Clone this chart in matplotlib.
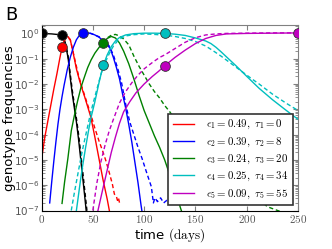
import numpy as np
import matplotlib
matplotlib.use("Agg")
import matplotlib.pyplot as plt
from matplotlib.ticker import FixedLocator, LogLocator, NullFormatter

plt.rcParams['mathtext.fontset'] = 'cm'
plt.rcParams['font.family'] = 'DejaVu Sans'

# values, stored as log10(frequency)
black_t = [0, 5, 10, 15, 20, 22, 24, 26, 28, 30, 32, 34, 36, 38, 40, 42, 44]
black_solid = [0, -0.01, -0.02, -0.04, -0.07, -0.22, -0.55, -1.0, -1.75, -2.4, -2.95,
               -3.5, -4.15, -4.9, -5.65, -6.4, -7.2]
black_dash_t = [20, 22, 24, 26, 28, 30, 32, 34, 36, 38, 40, 42, 44, 45]
black_dash = [-0.07, -0.2, -0.5, -0.92, -1.6, -2.25, -2.8, -3.35, -3.95, -4.65, -5.4,
              -6.15, -6.9, -7.3]

red_t = [0, 3, 6, 9, 12, 15, 18, 20, 22, 24, 26, 28, 30, 32, 34, 37, 40, 42, 45, 48,
         52, 56, 60, 64, 67]
red_solid = [-5.0, -4.15, -3.5, -2.85, -2.2, -1.6, -0.95, -0.55, -0.28, -0.14, -0.13,
             -0.25, -0.6, -1.0, -1.4, -1.85, -2.25, -2.5, -2.9, -3.3, -4.1, -4.95,
             -5.8, -6.55, -7.2]
red_dash_t = [20, 24, 28, 32, 36, 40, 44, 48, 52, 56, 60, 63, 66, 69, 71, 73, 74, 75, 76]
red_dash = [-0.55, -0.14, -0.24, -0.95, -1.65, -2.2, -2.7, -3.2, -3.75, -4.25, -4.7,
            -5.07, -5.5, -5.95, -6.35, -6.45, -6.6, -6.5, -6.7]

blue_t = [8, 10, 12, 14, 16, 18, 20, 22, 25, 28, 31, 34, 37, 40, 44, 48, 52, 56, 60,
          64, 67, 70, 73, 76, 79, 82, 85, 88, 91, 94, 97, 100]
blue_solid = [-6.7, -5.85, -5.05, -4.3, -3.6, -3.0, -2.5, -2.05, -1.45, -0.95, -0.55,
              -0.25, -0.07, 0.02, 0.03, 0.0, -0.06, -0.15, -0.28, -0.45, -0.6, -0.95,
              -1.35, -1.8, -2.4, -2.95, -3.6, -4.3, -5.1, -5.9, -6.8, -7.6]
blue_dash_t = [40, 48, 56, 62, 66, 70, 74, 78, 82, 86, 90, 94, 98, 102, 107, 109,
               110.5, 113, 116, 119, 122, 126]
blue_dash = [0.02, 0.0, -0.13, -0.3, -0.5, -0.85, -1.35, -1.95, -2.8, -3.5, -4.0,
             -4.5, -4.95, -5.45, -6.06, -6.7, -6.5, -6.65, -6.5, -6.7, -6.6, -6.7]

green_t = [20, 22.5, 25.7, 29, 32, 35, 38.6, 42, 45, 48.3, 52, 56.5, 60, 64, 68, 72,
           76, 80, 85, 90, 95, 100, 105, 110, 115, 120, 125, 130, 135, 137]
green_solid = [-6.72, -5.87, -4.94, -3.85, -3.25, -2.7, -2.11, -1.7, -1.35, -1.05,
               -0.78, -0.53, -0.37, -0.2, -0.12, -0.18, -0.38, -0.7, -1.2, -1.8,
               -2.45, -3.05, -3.55, -4.05, -4.5, -5.0, -5.6, -6.2, -6.85, -7.1]
green_dash_t = [60, 64, 68, 72, 76, 80, 85, 90, 95, 100, 105, 110, 115, 120, 125, 130,
                140, 150, 160, 175, 190, 205, 220, 230, 240]
green_dash = [-0.37, -0.18, -0.07, -0.04, -0.1, -0.22, -0.45, -0.9, -1.3, -1.65, -2.0,
              -2.3, -2.55, -2.85, -3.1, -3.4, -3.8, -4.2, -4.6, -5.2, -5.8, -6.3,
              -6.85, -7.0, -7.15]

cyan_t = [34, 36, 38, 40, 43, 46, 48.4, 52, 56, 60, 64, 68, 72, 76, 82, 90, 100, 110,
          120, 130, 140, 150, 160, 165, 170, 175, 180, 190, 200, 212, 225, 238, 250]
cyan_solid = [-7.0, -6.4, -5.8, -5.25, -4.5, -3.8, -3.3, -2.7, -1.95, -1.28, -0.85,
              -0.52, -0.3, -0.16, -0.06, -0.01, 0.01, 0.01, 0.0, -0.03, -0.08, -0.18,
              -0.3, -0.4, -0.55, -0.73, -0.92, -1.3, -1.7, -2.17, -2.62, -3.03, -3.4]
cyan_dash_t = [29, 32, 35, 38, 41, 44, 47, 50, 54, 58, 62, 66, 70, 74, 78, 82, 90, 100,
               110, 120, 130, 140, 150, 160, 167, 175, 185, 195, 205, 212, 225, 238, 250]
cyan_dash = [-7.0, -6.3, -5.65, -5.0, -4.4, -3.85, -3.3, -2.8, -2.2, -1.6, -1.15, -0.8,
             -0.5, -0.3, -0.18, -0.1, -0.05, -0.02, -0.04, -0.07, -0.12, -0.2, -0.32,
             -0.5, -0.68, -0.9, -1.2, -1.5, -1.8, -2.0, -2.4, -2.75, -3.05]

magenta_t = [55, 60, 64, 68, 72, 76, 80, 86, 92, 100, 108, 114, 120, 130, 140, 150,
             160, 170, 180, 200, 225, 250]
magenta_solid = [-7.0, -6.1, -5.4, -4.7, -4.1, -3.55, -3.1, -2.7, -2.35, -2.0, -1.7,
                 -1.5, -1.28, -0.95, -0.66, -0.4, -0.2, -0.08, -0.02, 0.0, 0.01, 0.02]
magenta_dash_t = [50, 54, 58, 62, 66, 70, 76, 82, 88, 94, 100, 108, 115, 120, 130, 140,
                  150, 160, 170, 180, 200, 225, 250]
magenta_dash = [-7.0, -5.9, -5.05, -4.4, -3.85, -3.4, -2.75, -2.3, -1.95, -1.65, -1.4,
                -1.15, -0.95, -0.85, -0.6, -0.35, -0.17, -0.06, -0.02, 0.0, 0.01, 0.02,
                0.02]

# sampled data points (day, frequency)
pts_black = ([0, 20], [1.0, 0.85])
pts_red = ([20], [0.28])
pts_blue = ([40], [1.05])
pts_green = ([60], [0.43])
pts_cyan = ([60, 120], [0.056, 1.0])
pts_magenta = ([120, 250], [0.052, 1.0])

labels = [r'$\epsilon_1 = 0.49,\ \tau_1 = 0$',
          r'$\epsilon_2 = 0.39,\ \tau_2 = 8$',
          r'$\epsilon_3 = 0.24,\ \tau_3 = 20$',
          r'$\epsilon_4 = 0.25,\ \tau_4 = 34$',
          r'$\epsilon_5 = 0.09,\ \tau_5 = 55$']

fig = plt.figure(figsize=(3.32, 2.49), dpi=100)
ax = fig.add_axes([0.125, 0.1546, 0.773, 0.746])

lw = 1.0
series = [
    ('r', red_t, red_solid, red_dash_t, red_dash, pts_red),
    ('b', blue_t, blue_solid, blue_dash_t, blue_dash, pts_blue),
    ('g', green_t, green_solid, green_dash_t, green_dash, pts_green),
    ('c', cyan_t, cyan_solid, cyan_dash_t, cyan_dash, pts_cyan),
    ('m', magenta_t, magenta_solid, magenta_dash_t, magenta_dash, pts_magenta),
]

ax.plot(black_t, np.power(10.0, black_solid), color='k', lw=lw)
ax.plot(black_dash_t, np.power(10.0, black_dash), color='k', lw=lw, ls='--', dashes=(3, 2))

handles = []
for (c, t, s, dt, d, pts), lab in zip(series, labels):
    h, = ax.plot(t, np.power(10.0, s), color=c, lw=lw, label=lab)
    ax.plot(dt, np.power(10.0, d), color=c, lw=lw, ls='--', dashes=(3, 2))
    handles.append(h)

for c, pts in [('k', pts_black)] + [(s[0], s[5]) for s in series]:
    ax.plot(pts[0], pts[1], 'o', color=c, mec='#333333', mew=0.6, ms=7, zorder=5)

ax.set_yscale('log')
ax.set_xlim(0, 250)
ax.set_ylim(1e-7, 2.2)

ax.xaxis.set_major_locator(FixedLocator([0, 50, 100, 150, 200, 250]))
ax.set_xticklabels([f'${v}$' for v in [0, 50, 100, 150, 200, 250]])
ax.yaxis.set_major_locator(LogLocator(base=10, numticks=10))
ax.yaxis.set_minor_locator(LogLocator(base=10, subs=np.arange(2, 10) * 0.1, numticks=10))
ax.yaxis.set_minor_formatter(NullFormatter())

ax.tick_params(which='both', direction='in', top=True, right=True, color='#808080',
               labelcolor='#555555', labelsize=8, pad=2)
ax.tick_params(axis='y', labelsize=7.5, pad=1.5)
ax.tick_params(which='major', length=3.5)
ax.tick_params(which='minor', length=2)
for side in ['top', 'right']:
    ax.spines[side].set_color('#808080')

ax.set_xlabel(r'time $(\mathrm{days})$', fontsize=9.5, labelpad=1)
ax.set_ylabel('genotype frequencies', fontsize=9.5)
ax.yaxis.set_label_coords(-0.098, 0.5)

leg = ax.legend(handles=handles, loc='lower right', bbox_to_anchor=(0.98, 0.03),
                borderaxespad=0, fontsize=7.8, fancybox=False, edgecolor='#333333',
                framealpha=1, handlelength=2.0, labelspacing=0.36, handletextpad=1.1,
                borderpad=0.4)
leg.get_frame().set_linewidth(1.2)

fig.text(0.015, 0.975, 'B', fontsize=13, va='top', ha='left')

fig.savefig('out.png', dpi=100)
